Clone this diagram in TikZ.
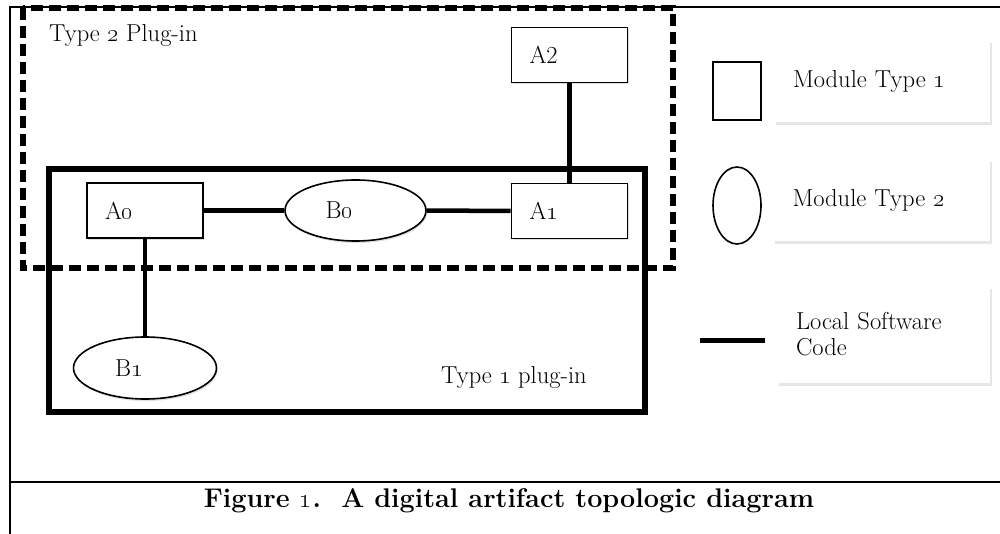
\RequirePackage{fix-cm}
\documentclass[tikz,border=0pt]{standalone}
\usetikzlibrary{shapes.geometric,shadows}
\newcommand\osn[1]{\oldstylenums{#1}}
\newcommand\fsz{\fontsize{24.5}{26}\selectfont}
\tikzset{
  modbox/.style={draw, fill=white, line width=1.6pt, rectangle, minimum width=116pt, minimum height=55pt,
    text width=80pt, align=left, inner xsep=18pt, inner ysep=0pt, font=\fsz,
    drop shadow={shadow xshift=1pt, shadow yshift=-2pt, opacity=0.25}},
  modell/.style={draw, line width=1.6pt, ellipse, fill=white, inner sep=0pt, font=\fsz,
    text width=60pt, align=left,
    drop shadow={shadow xshift=1pt, shadow yshift=-2pt, opacity=0.25}},
  link/.style={line width=4.5pt},
  legbox/.style={fill=white, rectangle, inner sep=0pt, font=\fsz, align=left,
    drop shadow={shadow xshift=1.5pt, shadow yshift=-3pt, opacity=0.2}},
  plain/.style={font=\fsz, inner sep=0pt},
}
\begin{document}
\begin{tikzpicture}[x=1pt,y=-1pt]
\useasboundingbox (0,0) rectangle (1000,534);
% outer frame
\draw[line width=1.6pt] (1000,7) -- (10,7) -- (10,540);
\draw[line width=1.6pt] (10,482) -- (1000,482);
% type 1 plug-in region
\draw[line width=5.5pt, fill=white, drop shadow={shadow xshift=1pt, shadow yshift=-3pt, opacity=0.25}] (49,169) rectangle (645,412);
% type 2 plug-in region
\draw[line width=6pt, dash pattern=on 12pt off 6pt] (23,8) rectangle (673,268);
% modules
\node[modbox] (A0) at (145,210.5) {A\osn{0}};
\node[modbox] (A1) at (569.5,211) {A\osn{1}};
\node[modbox] (A2) at (569.5,55) {A2};
\node[modell, minimum width=141pt, minimum height=61pt] (B0) at (355.5,210.5) {B\osn{0}};
\node[modell, minimum width=143pt, minimum height=62pt] (B1) at (145,368) {B\osn{1}};
% connectors
\draw[link] (A0.east) -- (B0.west);
\draw[link] (B0.east) -- (A1.west);
\draw[link] (A2.south) -- (A1.north);
\draw[link] (A0.south) -- (B1.north);
% region labels
\node[plain, anchor=base west] (t2) at (49,42) {Type \osn{2} Plug-in};
\node[plain, anchor=base west] (t1) at (441,383) {Type \osn{1} plug-in};
% legend
\node[draw, line width=1.6pt, minimum width=48pt, minimum height=58pt, inner sep=0pt] (lsq) at (737,91) {};
\node[draw, line width=1.6pt, ellipse, minimum width=48pt, minimum height=77pt, inner sep=0pt] (lel) at (737,205.5) {};
\coordinate (ll1) at (700,340);
\coordinate (ll2) at (765,340);
\draw[line width=5pt] (ll1) -- (ll2);
\node[legbox, minimum width=216pt, minimum height=82pt, text width=178pt, inner xsep=19pt] (L1) at (882,81) {Module Type \osn{1}};
\node[legbox, minimum width=217pt, minimum height=82pt, text width=178pt, inner xsep=19pt] (L2) at (881.5,200) {Module Type \osn{2}};
\node[legbox, minimum width=213pt, minimum height=97pt, text width=175pt, inner xsep=19pt] (L3) at (883.5,334.5) {Local Software\\Code};
% caption
\node[inner sep=0pt, anchor=base, font=\fontsize{27}{30}\selectfont\bfseries] (cap) at (509,507) {Figure \osn{1}.\ \ A digital artifact topologic diagram};
\end{tikzpicture}
\end{document}
